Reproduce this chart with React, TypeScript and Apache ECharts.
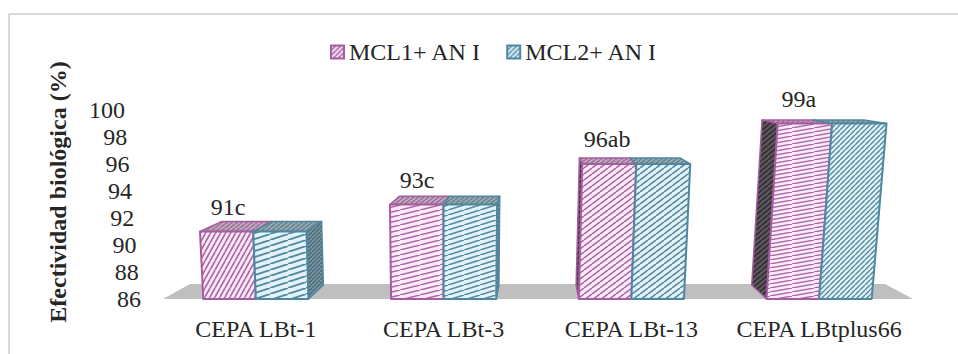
import React, { useEffect, useRef } from "react";
import * as echarts from "echarts";

const categories = ["CEPA LBt-1", "CEPA LBt-3", "CEPA LBt-13", "CEPA LBtplus66"];
const seriesNames = ["MCL1+ AN I", "MCL2+ AN I"];
const mcl1Values = [91, 93, 96, 99];
const mcl2Values = [91, 93, 96, 99];
const barLabels = ["91c", "93c", "96ab", "99a"];
const yTicks = [86, 88, 90, 92, 94, 96, 98, 100];

const FONT = '"Liberation Serif", "Times New Roman", serif';
const TEXT = "#262626";
const FS = 24;

function hatch(bg: string, fg: string, w: number, h: number, lw: number) {
  const c = document.createElement("canvas");
  c.width = w;
  c.height = h;
  const g = c.getContext("2d")!;
  g.fillStyle = bg;
  g.fillRect(0, 0, w, h);
  g.strokeStyle = fg;
  g.lineWidth = lw;
  for (let k = -1; k <= 1; k++) {
    g.beginPath();
    g.moveTo(k * w, h);
    g.lineTo(k * w + w, 0);
    g.stroke();
  }
  return { image: c, repeat: "repeat", imageWidth: w, imageHeight: h } as any;
}

export default function App() {
  const ref = useRef<HTMLDivElement>(null);
  useEffect(() => {
    const chart = echarts.init(ref.current!, null, { renderer: "svg" });

    const pBg = "#FBEAF8";
    const pFg = "#AC66A5";
    const bBg = "#E3F2F7";
    const bFg = "#53899F";
    const frontPatterns = [
      [hatch(pBg, pFg, 5, 9, 1.6), hatch(pBg, pFg, 20, 5, 1.5), hatch(pBg, pFg, 8, 6, 1.5), hatch(pBg, pFg, 22, 4, 1.3)],
      [hatch(bBg, bFg, 18, 6, 1.8), hatch(bBg, bFg, 16, 5, 1.6), hatch(bBg, bFg, 8, 6, 1.6), hatch(bBg, bFg, 5, 5, 1.4)],
    ];
    const topPatterns = [hatch("#C9A3C4", "#8F7A8C", 5, 4, 1.4), hatch("#93AAB5", "#6D7F88", 5, 4, 1.4)];
    const sidePatterns = [hatch("#5C555C", "#2E2B2E", 6, 5, 1.4), hatch("#7E9CAA", "#4F6C7A", 4, 4, 1.6)];
    const strokes = ["#A65CA0", "#4F87A0"];
    const legendPatterns = [hatch("#F3DDF0", "#A65CA0", 5, 5, 1.4), hatch("#DCEEF4", "#4F87A0", 5, 5, 1.4)];

    const makeRender = (si: number) => (params: any, api: any) => {
      const cat = api.value(0);
      const val = api.value(1);
      const center = api.coord([cat, val]);
      const baseY = params.coordSys.y + params.coordSys.height;
      const topY = center[1];
      const h = baseY - topY;
      const w = api.size([1, 0])[0] * 0.28;
      const xl = si === 0 ? center[0] - w : center[0];
      const xr = xl + w;
      const front = (x: number, height: number) => [x + (x - 450) * 0.0002 * height, baseY - height];
      const back = (p: number[], height: number) => [p[0] + (538 - p[0]) * 0.065, p[1] - (14 - height * 0.06)];
      const bl = front(xl, 0);
      const br = front(xr, 0);
      const tl = front(xl, h);
      const tr = front(xr, h);
      const tlb = back(tl, h);
      const trb = back(tr, h);
      const blb = back(bl, 0);
      const brb = back(br, 0);
      const stroke = strokes[si];
      const children: any[] = [];
      children.push({
        type: "polygon",
        shape: { points: [tl, tr, trb, tlb] },
        style: { fill: topPatterns[si], stroke, lineWidth: 1.5, lineJoin: "round" },
      });
      if (si === 0 && tlb[0] < tl[0]) {
        children.push({
          type: "polygon",
          shape: { points: [tl, bl, blb, tlb] },
          style: { fill: sidePatterns[0], stroke, lineWidth: 1.5, lineJoin: "round" },
        });
      }
      if (si === 1 && trb[0] > tr[0]) {
        children.push({
          type: "polygon",
          shape: { points: [tr, br, brb, trb] },
          style: { fill: sidePatterns[1], stroke, lineWidth: 1.5, lineJoin: "round" },
        });
      }
      children.push({
        type: "polygon",
        shape: { points: [bl, br, tr, tl] },
        style: { fill: frontPatterns[si][cat], stroke, lineWidth: 2, lineJoin: "round" },
      });
      if (si === 0) {
        children.push({
          type: "text",
          x: (xl + xr + tl[0] + tr[0]) / 4,
          y: topY - 25,
          style: {
            text: barLabels[cat],
            fill: TEXT,
            font: `${FS}px ${FONT}`,
            textAlign: "center",
            textVerticalAlign: "middle",
          },
        });
      }
      return { type: "group", children };
    };

    const renderFloor = (params: any) => {
      const { x, y, width, height } = params.coordSys;
      const b = y + height;
      return {
        type: "polygon",
        shape: {
          points: [
            [x + 1, b],
            [x + 28, b - 15],
            [x + width - 28, b - 15],
            [x + width, b],
          ],
        },
        style: { fill: "#BFBFBF" },
      };
    };

    const yRich: any = {};
    yTicks.forEach((v) => {
      yRich[`t${v}`] = {
        padding: [0, (v - 86) * 1.14, 0, 0],
        fontFamily: FONT,
        fontSize: FS,
        color: TEXT,
      };
    });

    chart.setOption({
      animation: false,
      backgroundColor: "#ffffff",
      grid: { left: 162, top: 110, width: 751, height: 189, containLabel: false },
      legend: {
        left: 325,
        top: 35,
        itemWidth: 13,
        itemHeight: 13,
        itemGap: 25,
        textStyle: { fontFamily: FONT, fontSize: FS, color: TEXT },
        data: seriesNames.map((name, i) => ({
          name,
          icon: "rect",
          itemStyle: { color: legendPatterns[i], borderColor: strokes[i], borderWidth: 2 },
        })),
      },
      xAxis: {
        type: "category",
        data: categories,
        axisLine: { show: false },
        axisTick: { show: false },
        splitLine: { show: false },
        axisLabel: { margin: 18, interval: 0, fontFamily: FONT, fontSize: FS, color: TEXT },
      },
      yAxis: {
        type: "value",
        min: 86,
        max: 100,
        interval: 2,
        axisLine: { show: false },
        axisTick: { show: false },
        splitLine: { show: false },
        axisLabel: {
          margin: 21,
          formatter: (v: number) => `{t${v}|${v}}`,
          rich: yRich,
        },
      },
      graphic: [
        { type: "line", shape: { x1: 9, y1: 14, x2: 958, y2: 14 }, style: { stroke: "#D9D9D9", lineWidth: 2 } },
        { type: "line", shape: { x1: 9, y1: 14, x2: 9, y2: 354 }, style: { stroke: "#D9D9D9", lineWidth: 2 } },
        {
          type: "text",
          x: 58,
          y: 192,
          rotation: Math.PI / 2,
          style: {
            text: "Efectividad biológica (%)",
            font: `bold ${FS}px ${FONT}`,
            fill: TEXT,
            textAlign: "center",
            textVerticalAlign: "middle",
          },
        },
      ],
      series: [
        {
          type: "custom",
          name: "floor",
          silent: true,
          renderItem: renderFloor,
          data: [[0, 86]],
          encode: { x: 0, y: 1 },
        },
        {
          type: "custom",
          name: seriesNames[0],
          renderItem: makeRender(0),
          data: mcl1Values.map((v, i) => [i, v]),
          encode: { x: 0, y: 1 },
        },
        {
          type: "custom",
          name: seriesNames[1],
          renderItem: makeRender(1),
          data: mcl2Values.map((v, i) => [i, v]),
          encode: { x: 0, y: 1 },
        },
      ],
    });
    return () => chart.dispose();
  }, []);
  return <div ref={ref} style={{ position: "absolute", left: 0, top: 0, width: 958, height: 354 }} />;
}
